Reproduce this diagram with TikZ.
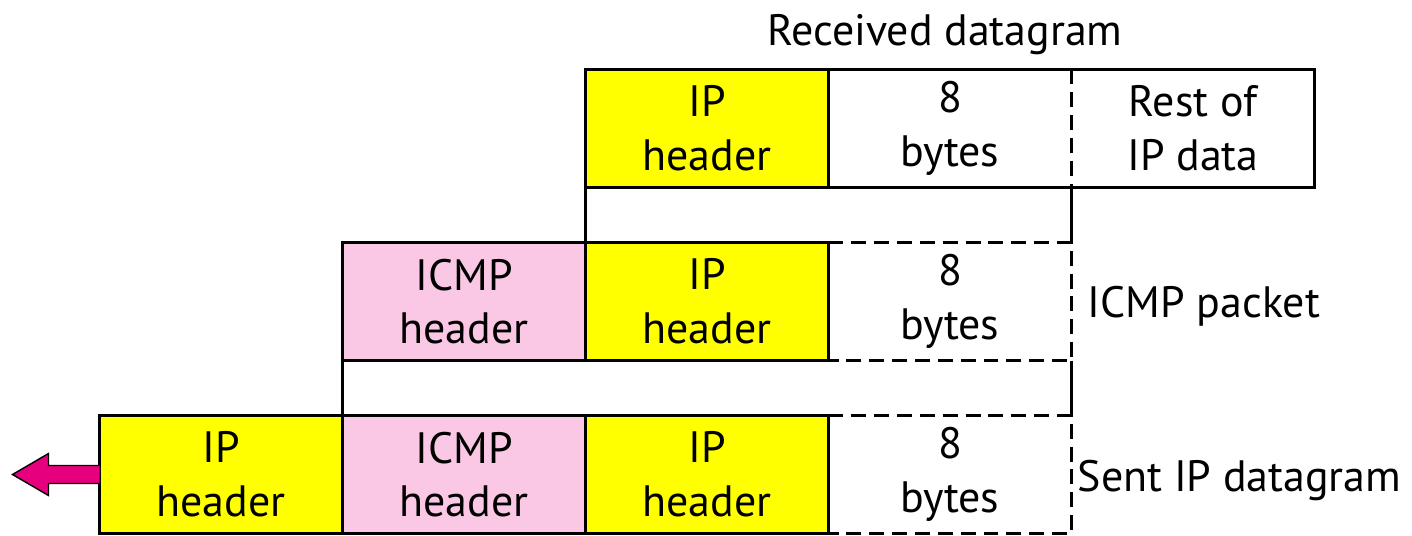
\documentclass[tikz,border=0pt]{standalone}
\usepackage{fontspec}
\setmainfont{PT Sans}
\usetikzlibrary{positioning,calc}

\definecolor{hdryellow}{RGB}{255,255,0}
\definecolor{icmppink}{RGB}{250,200,228}
\definecolor{arrowpink}{RGB}{230,0,126}

\begin{document}
\begin{tikzpicture}[node distance=0cm,
    field/.style={minimum width=4.86cm, minimum height=2.36cm, inner sep=0pt, outer sep=0pt,
        align=center, font=\fontsize{25}{30.5}\selectfont},
    iphdr/.style={field, draw, line width=1.4pt, fill=hdryellow},
    icmphdr/.style={field, draw, line width=1.4pt, fill=icmppink},
    caption/.style={inner sep=0pt, font=\fontsize{25}{30}\selectfont},
    dash8/.style={line width=1.5pt, dash pattern=on 8.5pt off 4.5pt},
    solid8/.style={line width=1.4pt}]

    \useasboundingbox (0,0) rectangle (28.24,10.7);

    % sent datagram
    \node (ip3) [iphdr] at (4.42,1.21) {IP\\header};
    \node (icmp3) [icmphdr, right=of ip3] {ICMP\\header};
    \node (ipin3) [iphdr, right=of icmp3] {IP\\header};
    \node (byt3) [field, right=of ipin3] {8\\bytes};

    % icmp packet
    \node (icmp2) [icmphdr, above=1.1cm of icmp3] {ICMP\\header};
    \node (ip2) [iphdr, right=of icmp2] {IP\\header};
    \node (byt2) [field, right=of ip2] {8\\bytes};

    % received datagram
    \node (ip1) [iphdr, above=1.1cm of ip2] {IP\\header};
    \node (byt1) [field, right=of ip1] {8\\bytes};
    \node (rest1) [field, right=of byt1] {Rest of\\IP data};

    \draw[solid8] (ip1.north east) -- (rest1.north east) -- (rest1.south east) -- (ip1.south east);
    \draw[dash8] (byt1.north east) -- (byt1.south east);
    \draw[dash8] (byt2.north west) -- (byt2.north east) -- (byt2.south east) -- (byt2.south west);
    \draw[dash8] (byt3.north west) -- (byt3.north east) -- (byt3.south east) -- (byt3.south west);

    \draw[solid8] (ip1.south west) -- (ip2.north west);
    \draw[solid8] (byt1.south east) -- (byt2.north east);
    \draw[solid8] (icmp2.south west) -- (icmp3.north west);
    \draw[solid8] (byt2.south east) -- (byt3.north east);

    \node (recv) [caption, anchor=base] at ($(ip1.north west)!0.5!(rest1.north east)+(-0.1,0.48)$) {Received datagram};
    \node (pkt) [caption, right=0.32cm of byt2, yshift=-0.1cm] {ICMP packet};
    \node (sent) [caption, right=0.12cm of byt3, yshift=-0.13cm] {Sent IP datagram};

    \draw[line width=0.8pt, fill=arrowpink] (ip3.west) ++(0,0.18) -- ++(-1.02,0) -- ++(0,0.24)
        -- ++(-0.72,-0.42) -- ++(0.72,-0.42) -- ++(0,0.24) -- ++(1.02,0);

\end{tikzpicture}
\end{document}
